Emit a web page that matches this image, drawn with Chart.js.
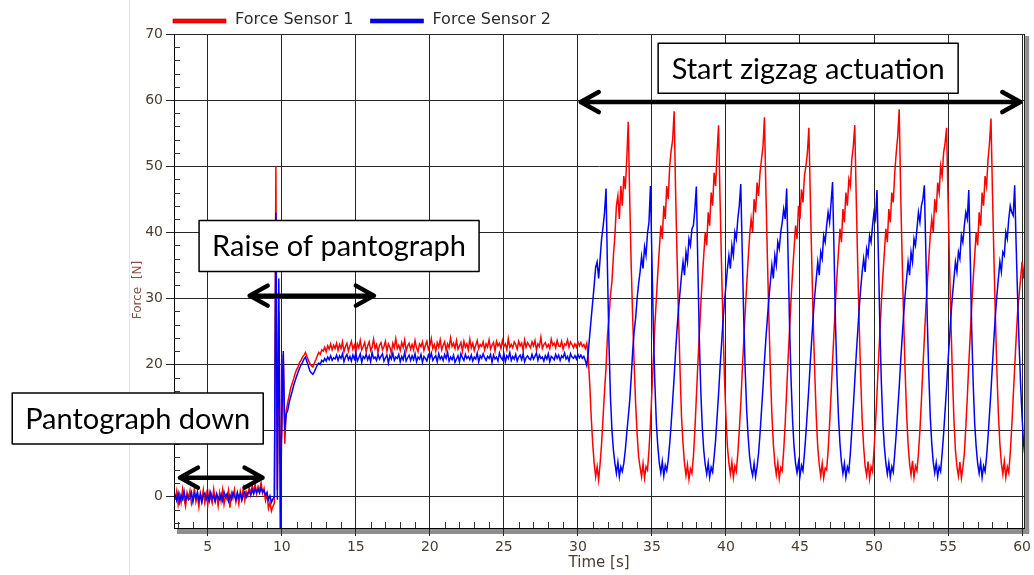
<!DOCTYPE html>
<html>
<head>
<meta charset="utf-8">
<title>Force sensors</title>
<script src="https://cdn.jsdelivr.net/npm/chart.js@4.4.0/dist/chart.umd.min.js"></script>
<style>
  html, body { margin: 0; padding: 0; background: #fff; }
  #wrap { position: relative; width: 1034px; height: 575px; }
</style>
</head>
<body>
<div id="wrap"><canvas id="forceChart" width="1034" height="575"></canvas></div>
<script>
// sampling of the two traces: first sample at t0, one sample every dt seconds
const t0 = 2.8;
const dt = 0.1;

// Force Sensor 1 (red), one row = 1 s
const sensor1 = [
  -0.5, 0.8, -1.2, 0.3, -0.9, 1.1, -0.4, -1.5, 0.6, -0.2,
  0.9, -1.1, -0.3, 1.2, -0.8, 0.2, -1.6, 0.5, -0.6, 1.0,
  -0.9, 0.4, -1.3, 0.7, -0.2, -1.0, 1.1, -0.5, 0.3, -1.4,
  0.6, -0.7, 1.0, -1.2, 0.1, -0.4, 0.9, -1.7, 0.5, -0.3,
  1.0, -0.8, 0.4, -1.1, 0.8, -0.2, 1.2, -0.6, 0.7, 0.1,
  1.4, 0.3, 1.7, 0.6, 1.9, 0.4, 1.5, 0.9, 2.1, 0.5,
  1.2, -0.6, 0.4, -1.8, -0.9, -2.2, -1.5, -1.0, 50, 1,
  28, 5, 10, 21.5, 8, 13, 14.2, 15.3, 16.4, 17.1,
  17.8, 18.6, 19.2, 19.6, 20.3, 20.6, 21.1, 21.4, 21.8, 21.2,
  20.6, 20.1, 19.8, 19.6, 20.2, 20.7, 21.3, 21.8, 21.5, 22.2,
  22.0, 22.6, 21.9, 22.8, 22.3, 23.1, 22.2, 22.9, 22.4, 23.2,
  22.1, 23.0, 22.4, 23.4, 21.9, 22.7, 23.2, 22.0, 22.8, 23.5,
  22.3, 22.9, 21.8, 23.1, 22.5, 23.6, 22.2, 22.7, 23.3, 21.9,
  22.8, 23.4, 22.1, 22.6, 23.8, 22.4, 23.0, 21.8, 22.9, 23.3,
  22.2, 22.7, 23.5, 22.0, 23.1, 22.6, 21.7, 23.2, 22.5, 23.9,
  22.4, 22.9, 22.1, 23.3, 22.6, 23.7, 22.0, 22.8, 23.2, 22.3,
  23.0, 22.2, 23.6, 22.5, 21.9, 23.1, 22.7, 23.4, 22.1, 22.9,
  23.5, 22.3, 22.8, 23.9, 22.4, 23.0, 22.0, 23.3, 22.6, 23.7,
  22.2, 22.9, 23.4, 22.1, 23.1, 22.5, 24.0, 22.7, 23.2, 22.4,
  23.6, 22.3, 22.8, 23.3, 22.0, 23.5, 22.6, 23.1, 22.2, 23.8,
  22.5, 23.2, 22.1, 22.9, 23.6, 22.4, 23.0, 22.7, 23.4, 22.2,
  23.1, 22.6, 23.7, 22.3, 22.9, 23.3, 22.0, 23.5, 22.8, 23.2,
  22.4, 23.6, 22.7, 23.1, 22.2, 23.9, 22.6, 23.0, 22.5, 23.4,
  23.0, 22.3, 23.5, 22.8, 23.2, 22.1, 23.7, 22.6, 23.3, 22.9,
  22.5, 23.4, 22.8, 23.6, 22.2, 23.1, 22.7, 24.1, 22.4, 23.0,
  23.3, 22.6, 23.0, 22.4, 23.8, 22.9, 23.2, 22.5, 23.6, 22.8,
  22.7, 23.5, 22.3, 23.1, 22.9, 23.7, 22.6, 23.4, 23.0, 22.5,
  23.1, 22.6, 23.4, 22.8, 23.3, 22.7, 23.0, 22.4, 23.2, 21.0,
  17, 12, 8, 5, 3, 4.5, 2.5, 5, 8, 12,
  16, 19.5, 24.5, 27, 30.5, 32.5, 36.5, 39.5, 44, 45.5,
  42, 47, 44, 48.5, 46.5, 51, 56.7, 45, 35, 27,
  20, 14, 9.5, 6, 4.4, 3, 5, 2.8, 4.5, 4,
  7, 11, 16, 21, 26, 30, 34, 37.5, 41, 39,
  44, 42, 47, 45, 50, 52.4, 54, 58.3, 46, 36,
  27, 19, 12, 8, 5, 3.2, 4.8, 2.6, 4.2, 3.5,
  6, 10, 15, 20, 24.5, 29, 33, 36.5, 40, 38,
  43, 41, 46, 44, 49, 47, 52, 56.2, 45, 35,
  26, 18, 12, 7.5, 5, 3.4, 5.2, 2.9, 4.6, 3.8,
  6.5, 10, 14, 19, 23.5, 28, 32, 36, 39.5, 42,
  40, 45, 43, 47.5, 45.5, 49, 51, 53, 57.4, 46,
  36, 27, 19, 12.5, 8, 5, 3.3, 5.1, 2.7, 4.4,
  3.9, 7, 11, 16, 21, 25.5, 30, 34, 37.5, 41,
  39, 44, 42, 46.5, 44.5, 48.5, 50, 52, 55.8, 45,
  35, 26, 18.5, 12, 7.5, 4.8, 3.1, 5, 2.8, 4.3,
  4.0, 7, 11, 15.5, 20.5, 25, 29.5, 33.5, 37, 40.5,
  38.5, 43.5, 41.5, 46, 44, 48, 47, 51, 53, 56.2,
  45, 35, 26, 18, 11.5, 7.5, 4.6, 3.2, 5.3, 2.7,
  4.5, 3.8, 7, 11, 15.5, 20.5, 25, 29.5, 33.5, 37,
  40.5, 38.5, 43.5, 41.5, 46, 44.5, 49, 52, 54.5, 58.6,
  46, 36, 27, 19, 12.5, 8, 5, 3.3, 5.4, 2.9,
  4.6, 3.9, 6.5, 10, 14.5, 19.5, 24, 28.5, 32.5, 36,
  39.5, 42, 40, 45, 43, 47.5, 46, 50, 48.5, 52,
  53.5, 55.8, 45, 35, 26, 18, 11.5, 7, 4.5, 3.1,
  5.2, 2.8, 4.4, 6.5, 10.5, 15, 20, 24.5, 29, 33,
  36.5, 40, 38, 43, 41, 46, 44, 48.5, 47, 51,
  53.5, 57.2, 46, 36, 27, 19, 12.5, 8, 5, 3.4,
  5.3, 2.9, 4.5, 3.6, 6.5, 10.5, 15, 19.5, 24, 28,
  30.5, 33, 35.5, 33, 36
];

// Force Sensor 2 (blue)
const sensor2 = [
  0.3, -0.6, 0.5, -0.9, 0.2, -0.4, 0.8, -0.7, 0.1, -0.5,
  -0.3, 0.6, -0.8, 0.4, -0.2, 0.7, -0.6, 0.3, -0.9, 0.2,
  0.5, -0.4, 0.2, -0.7, 0.6, -0.3, 0.1, -0.8, 0.4, -0.2,
  -0.5, 0.3, -0.6, 0.7, -0.1, 0.4, -0.7, 0.2, -0.4, 0.6,
  0.1, -0.5, 0.6, -0.2, 0.4, -0.6, 0.3, 0.7, -0.1, 0.5,
  0.8, 0.2, 1.0, 0.4, 1.2, 0.6, 1.1, 0.5, 1.3, 0.7,
  0.9, 0.2, 0.6, -0.5, 0.1, -0.9, -0.4, 0, 43, -0.5,
  33, -6, 12, 22, 10, 12.5, 13, 14.2, 15.1, 15.9,
  16.8, 17.5, 18.2, 18.8, 19.4, 19.9, 20.3, 20.8, 21.1, 20.4,
  19.7, 19.0, 18.7, 18.5, 18.9, 19.4, 19.9, 20.2, 20.0, 20.6,
  20.4, 20.9, 20.5, 21.1, 20.7, 21.3, 20.6, 21.0, 20.8, 21.4,
  20.6, 21.3, 20.9, 21.6, 20.4, 21.1, 21.5, 20.7, 21.2, 20.5,
  21.4, 20.8, 21.7, 20.5, 21.0, 21.6, 20.3, 21.2, 20.9, 21.5,
  20.7, 21.3, 20.4, 21.8, 20.9, 21.1, 20.6, 21.5, 20.8, 21.2,
  21.6, 20.5, 21.0, 21.4, 20.2, 21.3, 20.8, 21.7, 20.6, 21.1,
  20.9, 21.5, 20.4, 21.2, 20.7, 21.8, 20.5, 21.0, 21.4, 20.6,
  21.3, 20.7, 21.6, 20.4, 21.1, 20.8, 21.5, 20.3, 21.2, 20.9,
  20.5, 21.4, 20.9, 21.7, 20.6, 21.0, 21.3, 20.4, 21.6, 20.8,
  21.2, 20.6, 21.5, 20.9, 21.8, 20.5, 21.1, 20.7, 21.4, 20.3,
  20.8, 21.3, 20.4, 21.6, 21.0, 20.6, 21.5, 20.9, 21.2, 20.7,
  21.4, 20.5, 21.1, 20.8, 21.7, 20.4, 21.3, 20.9, 21.6, 21.0,
  20.6, 21.2, 20.9, 21.5, 20.3, 21.4, 20.8, 21.1, 20.5, 21.7,
  21.0, 20.7, 21.6, 20.4, 21.3, 20.9, 21.8, 20.6, 21.2, 20.8,
  21.5, 20.5, 21.1, 21.4, 20.7, 21.6, 20.4, 21.0, 21.3, 20.9,
  20.7, 21.5, 20.8, 21.2, 21.7, 20.6, 21.4, 20.9, 21.1, 20.5,
  21.3, 20.8, 21.6, 20.4, 21.2, 21.0, 20.7, 21.5, 20.9, 21.4,
  20.6, 21.3, 21.0, 21.7, 20.8, 21.2, 20.5, 21.6, 21.1, 20.9,
  21.3, 20.8, 21.5, 21.0, 21.4, 20.9, 21.2, 20.6, 19.8, 21.8,
  24.5, 27, 29.5, 32, 34.7, 35.5, 33, 36, 39, 40.8,
  43, 46.6, 34, 23, 15, 10, 7, 5, 3.5, 5.2,
  3, 4.5, 3.8, 5, 7, 9.6, 12, 14.5, 18, 22,
  25, 27, 30, 32.2, 34, 36.3, 34.5, 37.8, 36.5, 39.8,
  41.5, 47, 36, 25, 17, 11, 7.5, 5, 3.6, 5.3,
  3.1, 4.7, 3.9, 5.5, 8, 11, 14.5, 18, 22, 25.5,
  28.5, 31, 33.5, 35.5, 33.5, 37, 35.5, 39, 38, 40.5,
  41, 43.5, 46.9, 35, 24, 16, 10.5, 7, 4.8, 3.4,
  5.1, 2.9, 4.4, 3.7, 6, 8.5, 12, 15.5, 19.5, 23,
  26.5, 29.5, 32, 34.5, 36.5, 34.5, 38, 36.5, 40, 39,
  42, 44, 47.3, 37, 27, 19, 13, 9, 6, 4.2,
  3.2, 5, 3, 4.5, 6.5, 9.5, 13, 16.5, 20.5, 24,
  27, 30, 32.5, 35, 33, 36.5, 35, 38.5, 37.5, 40,
  41.5, 43.5, 42, 46.6, 36, 25.5, 17.5, 11.5, 7.5, 5,
  3.6, 5.2, 3.1, 4.7, 3.9, 6.5, 9.5, 13, 16.5, 20.5,
  24, 27.5, 30.5, 33, 35.5, 33.5, 37, 36, 39.5, 38.5,
  41, 43, 41.5, 44.5, 47.6, 37, 26, 18, 12, 8,
  5.2, 3.5, 5, 2.9, 4.5, 3.8, 6.5, 10, 13.5, 17.5,
  21.5, 25, 28.5, 31.5, 34, 36, 34, 37.5, 36.5, 39.5,
  38.5, 41, 43, 42, 46.4, 36, 25, 17, 11, 7.5,
  5, 3.4, 5.1, 2.9, 4.5, 3.7, 6.5, 9.5, 13, 16.5,
  20.5, 24, 27.5, 30.5, 33, 35.5, 33.5, 37, 35.5, 39,
  38, 40.5, 43, 41.5, 44, 45, 47.1, 37, 26.5, 18.5,
  12, 8, 5.2, 3.6, 5.1, 3, 4.5, 3.8, 6.5, 9.5,
  13, 16.5, 20.5, 24, 27.5, 30.5, 33, 35.5, 34, 37,
  36, 39.5, 38.5, 41, 43, 42, 46.4, 36, 25, 17,
  11, 7.5, 5, 3.5, 5.2, 2.9, 4.6, 3.8, 6, 9,
  12.5, 16, 20, 24, 27.5, 30.5, 33, 35.5, 34, 37,
  36.5, 40, 39, 42, 44, 43, 42.5, 47.1, 38, 30,
  23, 17, 12, 8, 6
];

const seriesNames = ['Force Sensor 1', 'Force Sensor 2'];
const seriesColors = ['#ff0000', '#0000ff'];
const xTicks = [5, 10, 15, 20, 25, 30, 35, 40, 45, 50, 55, 60];
const yTicks = [0, 10, 20, 30, 40, 50, 60, 70];

// annotations, in data units (time s, force N)
const noteTexts = ['Pantograph down', 'Raise of pantograph', 'Start zigzag actuation'];
const noteTime = [0.27, 13.87, 45.55];
const noteForce = [11.8, 37.9, 64.8];
const arrowFrom = [3.12, 7.83, 30.19];
const arrowTo = [8.70, 16.22, 59.88];
const arrowForce = [2.85, 30.4, 59.7];

const noteBox = [[251, 51], [280, 51], [300, 50]]; // px sizes

const toPoints = arr => arr.map((v, i) => ({ x: Math.round((t0 + i * dt) * 10) / 10, y: v }));

const tickFont = { family: 'DejaVu Sans', size: 14 };
const tickColor = '#4a3d31';
const gridColor = '#262626';

const decor = {
  id: 'decor',
  beforeDraw(chart) {
    const { ctx, chartArea: a } = chart;
    ctx.save();
    ctx.fillStyle = '#fff';
    ctx.fillRect(0, 0, chart.width, chart.height);
    // faint edge of the original window
    ctx.strokeStyle = '#e4e4e4';
    ctx.lineWidth = 1;
    ctx.beginPath();
    ctx.moveTo(129.5, 0);
    ctx.lineTo(129.5, chart.height);
    ctx.stroke();
    // drop shadow of the plot frame
    ctx.fillStyle = '#8e8e8e';
    ctx.fillRect(a.left + 3, a.bottom + 1, a.right - a.left + 2, 5);
    ctx.fillRect(a.right + 1, a.top + 2, 4, a.bottom - a.top + 4);
    ctx.restore();
  },
  afterDraw(chart) {
    const { ctx, chartArea: a, scales: { x, y } } = chart;
    ctx.save();

    // right frame line
    ctx.strokeStyle = '#222';
    ctx.lineWidth = 1;
    ctx.beginPath();
    ctx.moveTo(Math.round(a.right) + 0.5, a.top);
    ctx.lineTo(Math.round(a.right) + 0.5, a.bottom);
    ctx.stroke();

    // minor ticks inside the frame
    ctx.strokeStyle = '#333';
    ctx.beginPath();
    for (let s = 3; s <= 60; s++) {
      if (s % 5 === 0) continue;
      const px = Math.round(x.getPixelForValue(s)) + 0.5;
      ctx.moveTo(px, a.bottom);
      ctx.lineTo(px, a.bottom - 6);
    }
    for (let f = -4; f <= 68; f += 2) {
      if (f % 10 === 0) continue;
      const py = Math.round(y.getPixelForValue(f)) + 0.5;
      ctx.moveTo(a.left, py);
      ctx.lineTo(a.left + 6, py);
    }
    ctx.stroke();

    // y axis title
    ctx.save();
    ctx.translate(138, (a.top + a.bottom) / 2 + 9);
    ctx.rotate(-Math.PI / 2);
    ctx.fillStyle = '#8a4f3f';
    ctx.font = '12px "DejaVu Sans"';
    ctx.textAlign = 'center';
    ctx.textBaseline = 'middle';
    ctx.fillText('Force  [N]', 0, 0);
    ctx.restore();

    // legend
    ctx.font = '16px "DejaVu Sans"';
    ctx.textBaseline = 'middle';
    ctx.textAlign = 'left';
    let lx = a.left - 1;
    seriesNames.forEach((name, i) => {
      ctx.fillStyle = seriesColors[i];
      ctx.fillRect(lx, 19, 53, 4);
      ctx.strokeStyle = i === 0 ? '#900' : '#009';
      ctx.lineWidth = 0.6;
      ctx.strokeRect(lx, 19, 53, 4);
      ctx.fillStyle = '#2b2b2b';
      ctx.fillText(name, lx + 62, 20);
      lx += 62 + ctx.measureText(name).width + 17;
    });

    // arrows
    ctx.strokeStyle = '#000';
    ctx.lineWidth = 4.5;
    ctx.lineCap = 'round';
    ctx.lineJoin = 'round';
    arrowFrom.forEach((from, i) => {
      const x1 = x.getPixelForValue(from);
      const x2 = x.getPixelForValue(arrowTo[i]);
      const py = y.getPixelForValue(arrowForce[i]);
      ctx.beginPath();
      ctx.moveTo(x1, py);
      ctx.lineTo(x2, py);
      ctx.moveTo(x1 + 18, py - 10);
      ctx.lineTo(x1, py);
      ctx.lineTo(x1 + 18, py + 10);
      ctx.moveTo(x2 - 18, py - 10);
      ctx.lineTo(x2, py);
      ctx.lineTo(x2 - 18, py + 10);
      ctx.stroke();
    });

    // text boxes
    ctx.font = '29px Lato';
    ctx.textAlign = 'center';
    ctx.textBaseline = 'middle';
    noteTexts.forEach((txt, i) => {
      const cx = x.getPixelForValue(noteTime[i]);
      const cy = y.getPixelForValue(noteForce[i]);
      const [w, h] = noteBox[i];
      ctx.fillStyle = '#fff';
      ctx.fillRect(cx - w / 2, cy - h / 2, w, h);
      ctx.strokeStyle = '#000';
      ctx.lineWidth = 1.5;
      ctx.strokeRect(cx - w / 2, cy - h / 2, w, h);
      ctx.fillStyle = '#000';
      ctx.fillText(txt, cx, cy + 1);
    });

    ctx.restore();
  }
};

const ctx = document.getElementById('forceChart').getContext('2d');
const forceChart = new Chart(ctx, {
  type: 'line',
  data: {
    datasets: [
      {
        label: seriesNames[0],
        data: toPoints(sensor1),
        borderColor: seriesColors[0],
        borderWidth: 1.5,
        pointRadius: 0,
        tension: 0,
        order: 1
      },
      {
        label: seriesNames[1],
        data: toPoints(sensor2),
        borderColor: seriesColors[1],
        borderWidth: 1.5,
        pointRadius: 0,
        tension: 0,
        order: 0 // blue sits on top of red
      }
    ]
  },
  options: {
    responsive: false,
    animation: false,
    layout: { padding: { top: 34, right: 5, left: 0, bottom: 0 } },
    plugins: {
      legend: { display: false },
      tooltip: { enabled: false }
    },
    scales: {
      x: {
        type: 'linear',
        min: 2.72,
        max: 60.14,
        afterBuildTicks: s => { s.ticks = xTicks.map(v => ({ value: v })); },
        afterFit: s => { s.height = 47; },
        grid: { color: gridColor, tickLength: 8, tickColor: gridColor },
        border: { color: '#000', width: 1 },
        ticks: { font: tickFont, color: tickColor, padding: 3, maxRotation: 0, autoSkip: false },
        title: {
          display: true,
          text: 'Time [s]',
          color: tickColor,
          font: { family: 'DejaVu Sans', size: 15 },
          padding: { top: 0, bottom: 3 }
        }
      },
      y: {
        type: 'linear',
        min: -4.77,
        max: 70,
        afterBuildTicks: s => { s.ticks = yTicks.map(v => ({ value: v })); },
        afterFit: s => { s.width = 174; },
        grid: { color: gridColor, tickLength: 8, tickColor: gridColor },
        border: { color: '#000', width: 1 },
        ticks: { font: tickFont, color: tickColor, padding: 3, autoSkip: false }
      }
    }
  },
  plugins: [decor]
});
</script>
</body>
</html>
